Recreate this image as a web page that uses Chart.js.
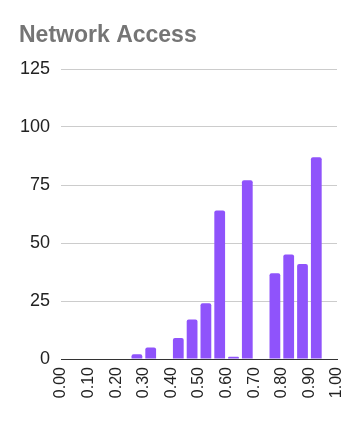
<!DOCTYPE html>
<html>
<head>
<meta charset="utf-8">
<script src="https://cdn.jsdelivr.net/npm/chart.js@4"></script>
<style>
html,body{margin:0;padding:0;background:#fff;}
#wrap{width:355px;height:421px;position:relative;}
</style>
</head>
<body>
<div id="wrap"><canvas id="c"></canvas></div>
<script>
const chartTitle = "Network Access";
const binCenters = [0.025,0.075,0.125,0.175,0.225,0.275,0.325,0.375,0.425,0.475,0.525,0.575,0.625,0.675,0.725,0.775,0.825,0.875,0.925,0.975];
const counts     = [0,0,0,0,0,2,5,0,9,17,24,64,1,77,0,37,45,41,87,0];
const yTicks = [0,25,50,75,100,125];
const xTicks = [0,0.1,0.2,0.3,0.4,0.5,0.6,0.7,0.8,0.9,1.0];

Chart.defaults.font.family = "'Liberation Sans', Arial, sans-serif";

new Chart(document.getElementById('c'), {
  type: 'bar',
  data: {
    datasets: [{
      data: binCenters.map((x, i) => ({x: x, y: counts[i]})),
      backgroundColor: '#8f53fb',
      borderRadius: {topLeft: 2, topRight: 2},
      borderSkipped: 'bottom',
      barPercentage: 0.78,
      categoryPercentage: 1.0
    }]
  },
  options: {
    responsive: true,
    maintainAspectRatio: false,
    animation: false,
    layout: {padding: {left: 19, right: 18, top: 6, bottom: 0}},
    plugins: {
      legend: {display: false},
      tooltip: {enabled: false},
      title: {
        display: true,
        text: chartTitle,
        align: 'start',
        color: '#757575',
        font: {size: 23, weight: 'bold'},
        padding: {top: 16, bottom: 19.4}
      }
    },
    scales: {
      x: {
        type: 'linear',
        min: 0, max: 1,
        offset: false,
        afterBuildTicks: (axis) => { axis.ticks = xTicks.map(v => ({value: v})); },
        afterFit: (axis) => { axis.height = 62; axis.paddingRight = 0; axis.paddingLeft = 0; },
        ticks: {
          callback: (v) => Number(v).toFixed(2),
          maxRotation: 90, minRotation: 90,
          color: '#222',
          font: {size: 16},
          padding: 8
        },
        grid: {display: false, drawTicks: false},
        border: {display: true, color: '#333', width: 1}
      },
      y: {
        min: 0, max: 125,
        afterBuildTicks: (axis) => { axis.ticks = yTicks.map(v => ({value: v})); },
        afterFit: (axis) => { axis.width = 42; },
        ticks: {color: '#222', font: {size: 18}, padding: 11},
        grid: {color: '#cccccc', drawTicks: false},
        border: {display: false}
      }
    }
  }
});
</script>
</body>
</html>
